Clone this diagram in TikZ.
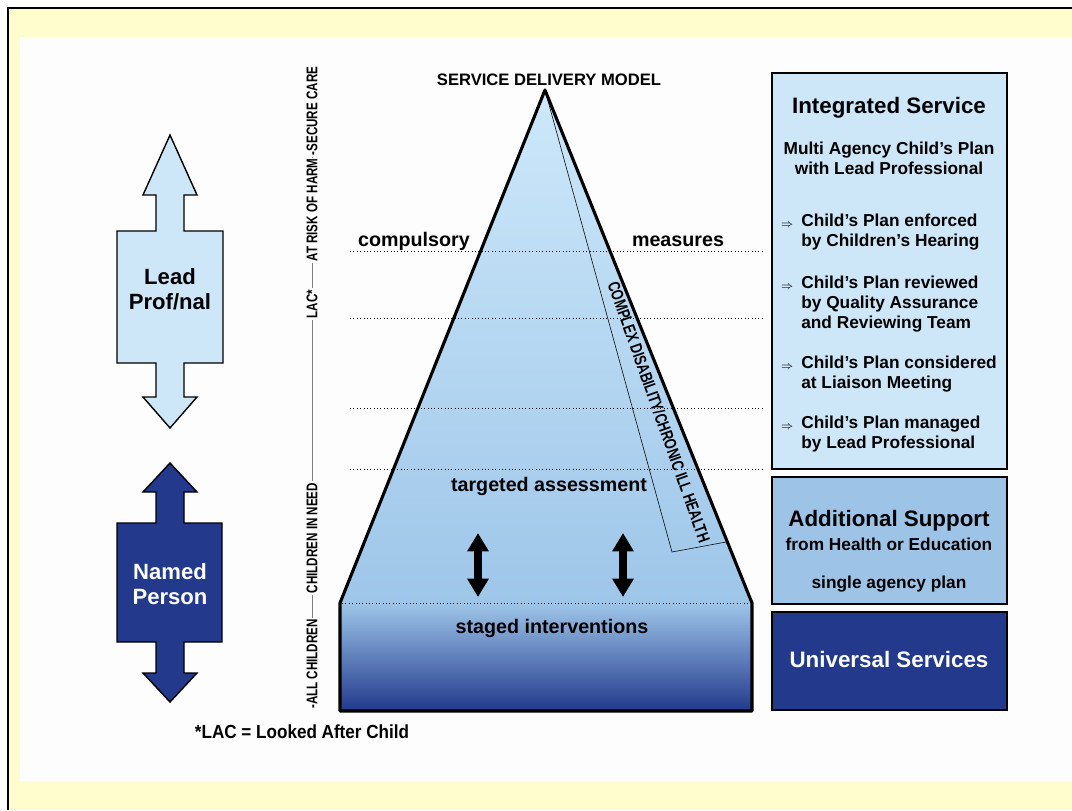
\documentclass[tikz,border=0pt]{standalone}
\usepackage{fontspec}
\setmainfont{Liberation Sans}
\newfontfamily\needfont[FakeStretch=0.75]{Liberation Sans}
\newfontfamily\notefont[FakeStretch=0.9]{Liberation Sans}
\usetikzlibrary{arrows.meta}

\definecolor{framebg}{RGB}{255,253,206}
\definecolor{pagebg}{RGB}{253,253,253}
\definecolor{paleblue}{RGB}{205,230,248}
\definecolor{midblue}{RGB}{157,195,230}
\definecolor{navy}{RGB}{34,57,140}
\definecolor{apexblue}{RGB}{205,232,250}
\definecolor{baseblue}{RGB}{158,198,233}
\definecolor{deepblue}{RGB}{115,155,212}

\begin{document}
\begin{tikzpicture}[x=0.025cm,y=-0.025cm,
    sidebox/.style={draw,line width=1.4pt},
    sidetext/.style={font=\bfseries\fontsize{15.7}{18}\selectfont,align=center},
    head/.style={font=\bfseries\fontsize{15.9}{18}\selectfont},
    boxtext/.style={font=\bfseries\fontsize{12.3}{14.2}\selectfont,align=left,anchor=west,inner sep=0pt},
    midtext/.style={font=\bfseries\fontsize{12.3}{14.2}\selectfont,align=center},
    lvl/.style={font=\bfseries\fontsize{14}{16}\selectfont},
    vert/.style={font=\needfont\bfseries\fontsize{11}{12}\selectfont,rotate=90,inner sep=1pt},
    level/.style={dotted,thin},
    imp/.style={font=\footnotesize},
    updown/.style={line width=5pt,{Triangle[width=14.5pt,length=13pt]}-{Triangle[width=14.5pt,length=13pt]}}]
  \useasboundingbox (0,0) rectangle (1072,810);

  % frame
  \fill[white] (0,0) rectangle (1072,810);
  \fill[framebg] (8,8) rectangle (1072,810);
  \draw[line width=1pt] (8,810) -- (8,8) -- (1072,8);
  \fill[pagebg] (20,37) rectangle (1072,781);

  % left arrows
  \draw[fill=paleblue,line width=1pt] (170,135) -- (197,195) -- (184,195) -- (184,231) -- (223,231) -- (223,363) -- (184,363) -- (184,397) -- (197,397) -- (170,428) -- (143,397) -- (156,397) -- (156,363) -- (117,363) -- (117,231) -- (156,231) -- (156,195) -- (143,195) -- cycle;
  \node[sidetext] (lead) at (170,289) {Lead\\Prof/nal};

  \draw[fill=navy,line width=1pt] (170,463) -- (197,492) -- (184,492) -- (184,523) -- (222,523) -- (222,642) -- (184,642) -- (184,673) -- (197,673) -- (170,702) -- (143,673) -- (156,673) -- (156,642) -- (117,642) -- (117,523) -- (156,523) -- (156,492) -- (143,492) -- cycle;
  \node[sidetext,text=white] (named) at (170,584) {Named\\Person};

  % scale of need
  \node[vert] (allc) at (312,664) {-ALL CHILDREN};
  \node[vert] (cin) at (312,538) {CHILDREN IN NEED};
  \node[vert] (lac) at (312,304) {LAC*};
  \node[vert] (risk) at (312,210) {AT RISK OF HARM};
  \node[vert] (secure) at (312,111) {-SECURE CARE};
  \draw[gray] (allc.east) -- (cin.west) (cin.east) -- (lac.west)
    (lac.east) -- (risk.west) (risk.east) -- (secure.west);

  % pyramid
  \coordinate (apex) at (545,90);
  \coordinate (bl) at (340,603);
  \coordinate (br) at (752,603);
  \coordinate (fl) at (340,711);
  \coordinate (fr) at (752,711);
  \shade[top color=apexblue,bottom color=baseblue] (apex) -- (bl) -- (br) -- cycle;
  \shade[top color=baseblue,middle color=deepblue,bottom color=navy] (bl) rectangle (fr);

  \foreach \y in {251,318,408,469}
    \draw[level] (350,\y) -- (762,\y);
  \draw[level] (342,603) -- (750,603);

  \coordinate (bandfoot) at (672,552);
  \coordinate (bandedge) at (726,542);
  \draw[thin] (apex) -- (bandfoot) -- (bandedge);
  \node[rotate=-70.5,font=\needfont\bfseries\fontsize{12}{12}\selectfont,inner sep=0pt] (cdis) at (659,412) {COMPLEX DISABILITY/CHRONIC ILL HEALTH};

  \draw[line width=2.2pt,line join=round] (br) -- (apex) -- (bl) -- (fl) -- (fr) -- cycle;

  \node[font=\bfseries\fontsize{11.8}{13}\selectfont] (sdm) at (549,80) {SERVICE DELIVERY MODEL};
  \node[lvl] (comp) at (414,241) {compulsory};
  \node[lvl] (meas) at (678,241) {measures};
  \node[lvl] (targ) at (549,486) {targeted assessment};
  \node[lvl] (staged) at (552,628) {staged interventions};

  \coordinate (a1t) at (478,533);
  \coordinate (a1b) at (478,597);
  \coordinate (a2t) at (623,533);
  \coordinate (a2b) at (623,597);
  \draw[updown] (a1b) -- (a1t);
  \draw[updown] (a2b) -- (a2t);

  % service boxes
  \draw[sidebox,fill=paleblue] (772,73) rectangle (1007,469);
  \draw[sidebox,fill=midblue] (772,477) rectangle (1007,604);
  \draw[sidebox,fill=navy] (772,612) rectangle (1007,710);

  \node[head] (isvc) at (889,108) {Integrated Service};
  \node[midtext] (multi) at (889,158) {Multi Agency Child’s Plan\\with Lead Professional};
  \node[boxtext] (p1) at (801,232) {Child’s Plan enforced\\by Children’s Hearing};
  \node[boxtext] (p2) at (801,304) {Child’s Plan reviewed\\by Quality Assurance\\and Reviewing Team};
  \node[boxtext] (p3) at (801,374) {Child’s Plan considered\\at Liaison Meeting};
  \node[boxtext] (p4) at (801,434) {Child’s Plan managed\\by Lead Professional};
  \foreach \y in {225,287,367,427}
    \node[imp] at (787,\y) {$\Rightarrow$};

  \node[head] (addl) at (889,521) {Additional Support};
  \node[midtext] (health) at (889,544) {from Health or Education};
  \node[midtext] (single) at (889,584) {single agency plan};
  \node[head,text=white] (univ) at (889,659) {Universal Services};

  \node[font=\notefont\bfseries\fontsize{13.5}{15}\selectfont] (lacnote) at (302,732) {*LAC = Looked After Child};
\end{tikzpicture}
\end{document}
